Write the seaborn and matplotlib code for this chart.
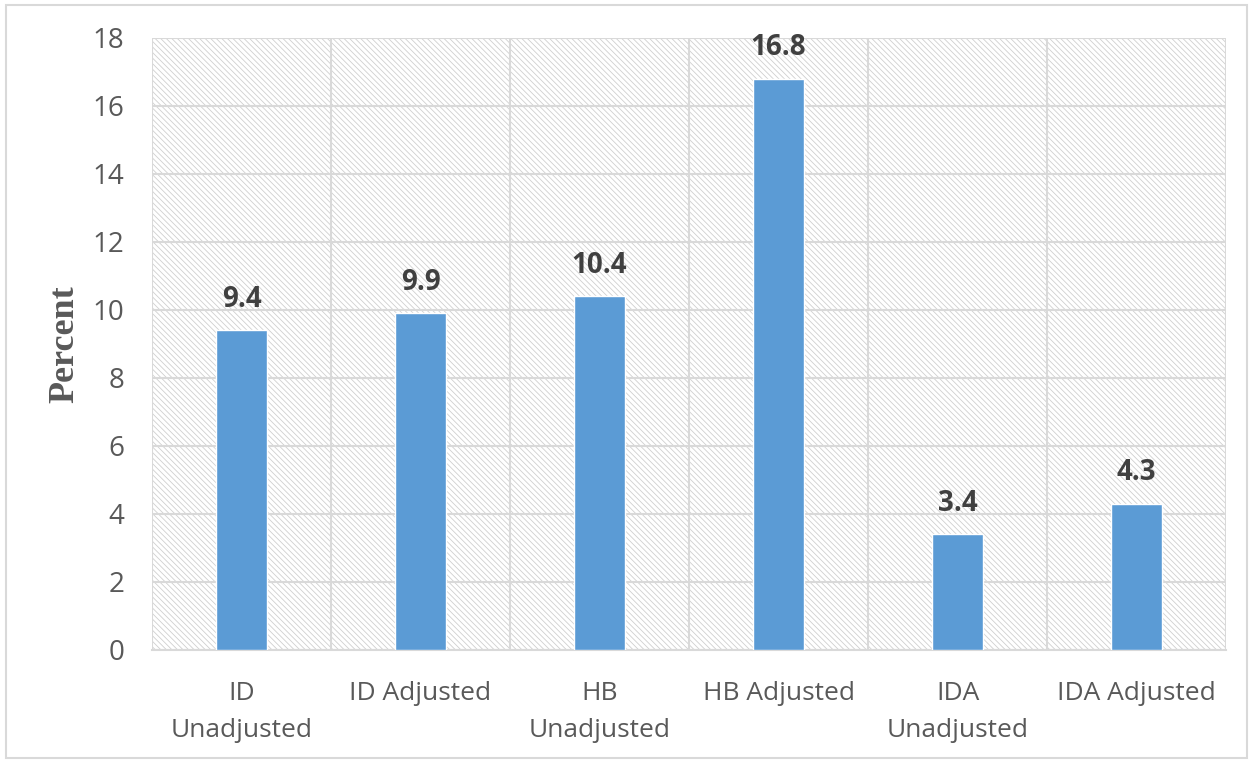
import matplotlib
matplotlib.use("Agg")
import matplotlib.pyplot as plt
import matplotlib.patches as mpatches
import seaborn as sns
import pandas as pd

categories = ["ID\nUnadjusted", "ID Adjusted", "HB\nUnadjusted",
              "HB Adjusted", "IDA\nUnadjusted", "IDA Adjusted"]
percent = [9.4, 9.9, 10.4, 16.8, 3.4, 4.3]
y_ticks = [0, 2, 4, 6, 8, 10, 12, 14, 16, 18]

df = pd.DataFrame({"category": categories, "percent": percent})

sns.set_style("white")
plt.rcParams["font.family"] = ["Open Sans", "DejaVu Sans"]
plt.rcParams["hatch.linewidth"] = 0.6
plt.rcParams["hatch.color"] = "#cfcfcf"

fig = plt.figure(figsize=(12.53, 7.63), dpi=100)
ax = fig.add_axes([0.1213, 0.1481, 0.8572, 0.8021])

# hatched plot area background
bg = mpatches.Rectangle((0, 0), 1, 1, transform=ax.transAxes, facecolor="white",
                        edgecolor="#cfcfcf", hatch="\\" * 6, linewidth=0, zorder=0)
ax.add_patch(bg)

sns.barplot(data=df, x="category", y="percent", color="#5b9bd5", width=0.28,
            saturation=1, ax=ax, zorder=3)

ax.set_ylim(0, 18)
ax.set_xlim(-0.5, len(categories) - 0.5)
ax.set_yticks(y_ticks)
ax.set_xticks([i + 0.5 for i in range(-1, len(categories))], minor=True)
ax.grid(True, axis="y", color="#d9d9d9", linewidth=1.5, zorder=1)
ax.grid(True, axis="x", which="minor", color="#d9d9d9", linewidth=1.5, zorder=1)
ax.set_axisbelow(True)

for s in ax.spines.values():
    s.set_visible(False)
ax.spines["bottom"].set_visible(True)
ax.spines["bottom"].set_color("#d9d9d9")
ax.spines["bottom"].set_linewidth(1.5)

ax.tick_params(axis="y", length=0, pad=20, labelsize=20, labelcolor="#595959")
ax.tick_params(axis="x", which="both", length=0, pad=22, labelsize=19, labelcolor="#595959")
for lbl in ax.get_xticklabels():
    lbl.set_linespacing(1.65)
ax.set_xlabel("")
ax.set_ylabel("Percent", fontsize=26, fontweight="bold", family="Liberation Serif",
              color="#595959", labelpad=8)

for i, v in enumerate(percent):
    ax.annotate(f"{v}", (i, v), xytext=(0, 12), textcoords="offset points",
                ha="center", va="bottom", fontsize=20, fontweight="bold", color="#404040")

# outer chart border
fig.add_artist(mpatches.Rectangle((0.005, 0.006), 0.99, 0.988, transform=fig.transFigure,
                                  fill=False, edgecolor="#d9d9d9", linewidth=1.5))

fig.savefig("out.png", dpi=100)
